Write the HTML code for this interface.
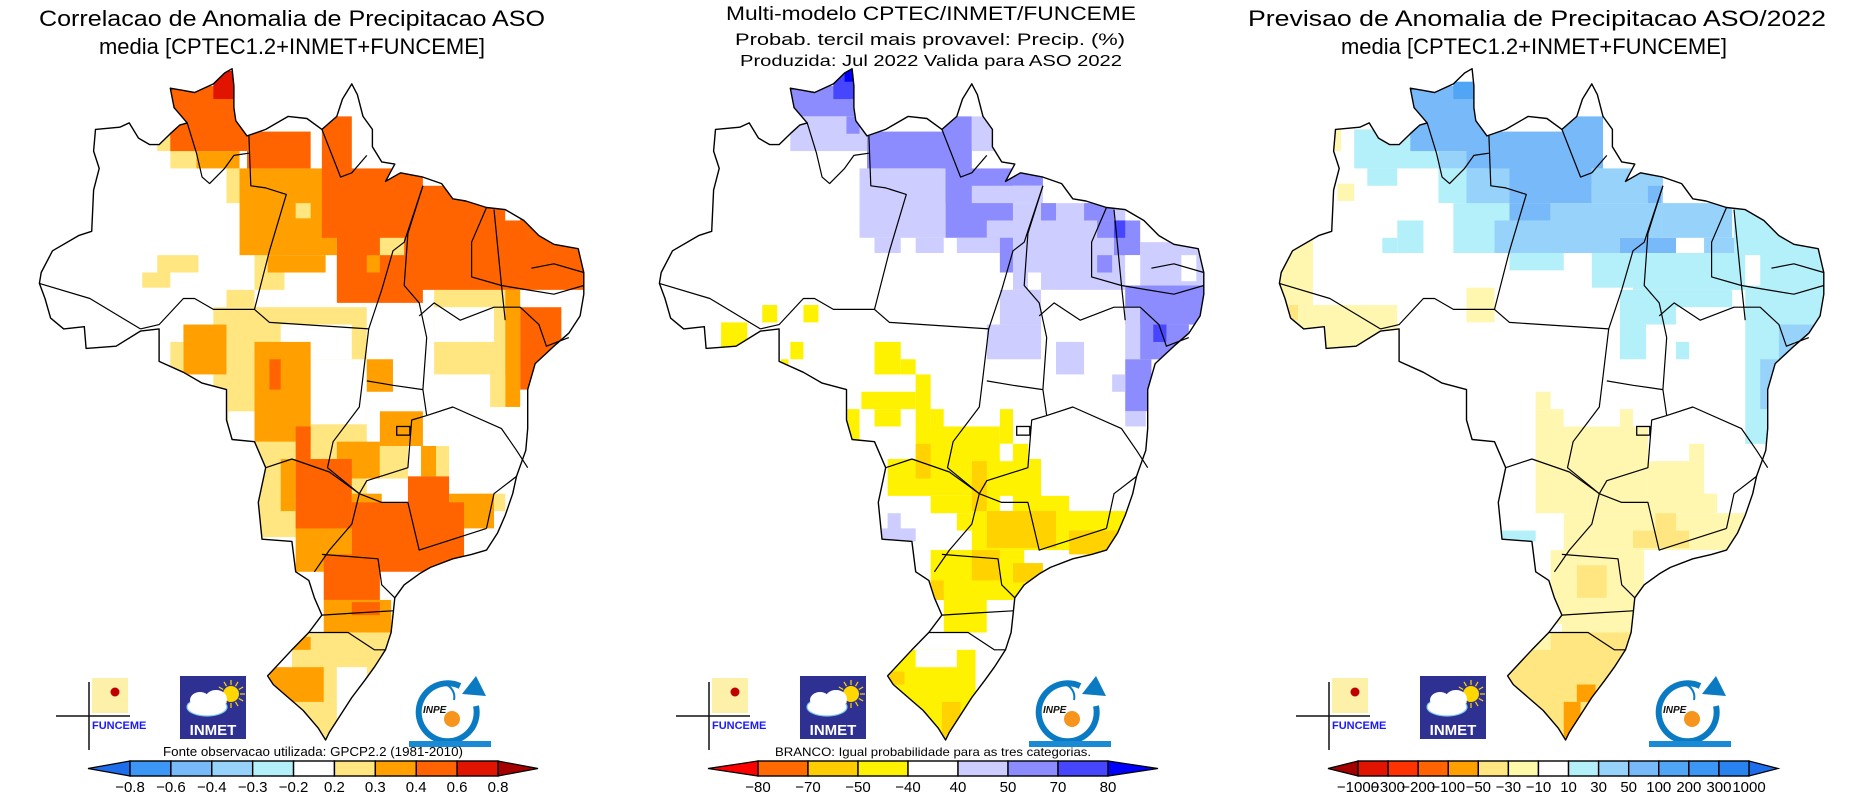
<!DOCTYPE html>
<html><head><meta charset="utf-8"><title>Precipitação ASO 2022</title>
<style>
html,body{margin:0;padding:0;background:#fff;}
#root{position:relative;width:1860px;height:802px;overflow:hidden;background:#fff;}
svg text{font-family:"Liberation Sans",sans-serif;}
</style></head>
<body>
<div id="root">
<svg id="fig" width="1860" height="802" viewBox="0 0 1860 802" xmlns="http://www.w3.org/2000/svg"></svg>
</div>
<script>
// ---- map data (cells in source-grid coordinates) ----
const outline = [[25,515],[30,490],[60,440],[130,405],[165,395],[170,300],[185,250],[170,210],[175,160],[240,155],[265,145],[290,180],[320,195],[345,195],[375,170],[400,150],[420,145],[385,110],[375,65],[410,70],[440,75],[490,55],[520,30],[540,20],[545,60],[545,110],[550,140],[580,175],[630,160],[690,130],[740,135],[780,160],[820,130],[835,90],[860,55],[875,80],[890,130],[915,160],[915,200],[940,235],[975,240],[950,280],[990,260],[1050,270],[1100,285],[1130,320],[1165,325],[1220,340],[1270,345],[1320,370],[1360,405],[1400,425],[1465,435],[1480,490],[1480,540],[1470,590],[1440,630],[1400,660],[1350,700],[1330,760],[1330,850],[1325,900],[1300,960],[1290,1000],[1270,1050],[1250,1090],[1220,1130],[1180,1140],[1130,1150],[1070,1170],[1040,1185],[1000,1210],[975,1240],[970,1280],[965,1320],[950,1360],[920,1400],[895,1430],[860,1470],[830,1510],[800,1550],[790,1568],[770,1540],[730,1500],[690,1470],[650,1440],[635,1420],[700,1360],[745,1320],[780,1280],[760,1240],[745,1200],[710,1180],[700,1110],[620,1105],[610,1020],[630,940],[600,880],[540,875],[525,830],[525,760],[460,745],[410,720],[345,695],[345,620],[295,625],[230,660],[150,665],[145,615],[90,620],[55,595],[40,550],[25,515]];
const borders = [
 [[25,515],[160,550],[295,620]],
 [[295,620],[345,610],[410,550],[440,550],[490,575],[600,575]],
 [[600,575],[640,440],[685,310],[630,295],[590,290],[585,175]],
 [[420,145],[445,215],[460,270],[480,285],[520,250],[545,220],[585,215]],
 [[600,575],[640,605],[905,620]],
 [[905,620],[940,530],[970,440],[1000,420],[1050,290]],
 [[780,160],[830,270],[860,260],[900,220]],
 [[1050,290],[1010,400],[1000,520],[1040,560],[1060,640]],
 [[1220,340],[1180,420],[1180,500],[1260,520],[1270,600]],
 [[1240,345],[1260,520]],
 [[1040,590],[1080,560],[1150,600],[1240,570],[1310,570],[1360,610],[1380,660],[1440,640]],
 [[1260,520],[1330,530],[1400,540],[1480,520]],
 [[1340,480],[1400,470],[1480,490]],
 [[1060,640],[1050,760],[1060,820]],
 [[1060,820],[1130,800],[1260,850],[1300,900],[1330,940]],
 [[1060,820],[1020,830],[1010,940],[900,970],[880,1000]],
 [[905,620],[890,730],[880,800],[810,880],[795,940],[880,1000]],
 [[900,740],[970,750],[1050,760]],
 [[630,940],[700,920],[800,950],[880,1000]],
 [[880,1000],[860,1070],[800,1130],[760,1180]],
 [[880,1000],[940,1020],[1010,1020],[1040,1130],[1220,1080]],
 [[1220,1080],[1240,1000],[1300,960]],
 [[780,1140],[930,1150],[940,1210],[975,1240]],
 [[780,1280],[870,1275],[970,1270]],
 [[745,1320],[850,1320],[920,1360],[950,1360]]
];
// panel 1 correlation cells: [x1,y1,x2,y2,colorKey]
const corrCells = [
 [490,570,900,1100,'y'],[340,170,375,210,'y'],[375,210,450,250,'y'],[525,250,600,330,'y'],[600,300,640,450,'y'],[600,450,680,530,'y'],[340,450,450,490,'y'],[300,490,375,525,'y'],[525,530,600,570,'y'],
 [1080,530,1270,800,'y'],[635,940,700,1080,'y'],[700,1320,970,1568,'y'],[785,1280,970,1330,'y'],[1160,1000,1270,1040,'y'],
 [670,610,860,690,'w'],[750,690,900,840,'w'],[530,810,640,880,'w'],[1080,570,1240,650,'w'],[1060,725,1230,800,'w'],[1080,800,1330,960,'w'],[820,1400,900,1520,'w'],
 [375,170,445,210,'o'],[445,210,560,250,'o'],[560,250,820,450,'o'],[635,450,790,490,'o'],[900,370,1010,490,'o'],[410,610,525,725,'o'],[600,650,750,880,'o'],[900,690,970,765,'o'],[820,880,935,965,'o'],[935,810,1050,890,'o'],[1045,890,1085,960,'o'],[860,1000,940,1140,'o'],[670,920,710,1040,'o'],[710,1040,860,1180,'o'],[785,1245,965,1320,'o'],[700,1330,750,1360,'o'],[640,1400,785,1480,'o'],[1120,1000,1240,1080,'o'],[1270,530,1310,800,'o'],[1230,725,1270,800,'y'],
 [710,330,750,365,'y'],[935,890,1010,965,'y'],[1085,890,1120,960,'y'],[375,650,410,725,'y'],
 [375,60,580,210,'d'],[580,165,750,250,'d'],[780,130,860,410,'d'],[820,250,1050,560,'d'],[1040,290,1480,530,'d'],[1310,570,1420,760,'d'],[640,690,670,760,'d'],[710,845,750,920,'d'],[710,920,860,1080,'d'],[860,1020,1160,1180,'d'],[1010,960,1120,1140,'d'],[785,1140,935,1245,'d'],[860,1250,935,1280,'d'],
 [1270,340,1310,370,'w'],[935,410,1000,450,'y'],[900,450,935,490,'o'],
 [490,25,545,90,'r']
];
// panel 2 tercile probability cells
const probCells = [
 [375,60,560,130,'l2'],[490,25,545,90,'l3'],[520,20,545,50,'b'],[375,130,580,210,'l1'],[525,130,560,170,'l2'],
 [580,165,790,250,'l2'],[780,130,860,330,'l2'],[860,130,920,210,'l1'],
 [560,250,790,410,'l1'],[600,410,670,445,'l1'],[710,410,785,445,'l1'],
 [790,250,970,410,'l2'],[860,290,970,330,'l1'],[900,370,970,410,'l1'],[820,410,935,445,'l1'],[935,410,970,490,'l2'],
 [970,250,1050,290,'l2'],[970,290,1050,330,'l1'],[970,330,1270,530,'l1'],[1045,330,1085,370,'l2'],[1160,330,1240,370,'l2'],[1195,370,1240,410,'l2'],[1240,370,1310,450,'l2'],[1240,370,1270,410,'l3'],[1195,450,1235,490,'l2'],[1270,450,1310,490,'w'],[1010,490,1045,530,'w'],
 [1310,420,1480,520,'l1'],[1420,450,1460,510,'w'],[1270,520,1480,610,'l2'],[1270,570,1310,610,'l1'],
 [1270,610,1420,690,'l1'],[1310,570,1360,690,'l2'],[1360,610,1440,690,'l2'],[1345,610,1380,650,'l3'],
 [1270,690,1340,810,'l2'],[1270,810,1325,845,'l1'],[1235,725,1270,765,'l1'],
 [935,530,1045,610,'l1'],[900,610,1045,690,'l1'],[1085,650,1160,725,'l1'],[635,1045,670,1110,'l1'],[620,1080,710,1110,'l1'],
 [300,565,340,605,'Y'],[190,605,260,665,'Y'],[410,565,450,605,'Y'],[375,650,410,690,'Y'],[350,690,370,710,'Y'],
 [600,650,670,725,'Y'],[670,690,710,725,'Y'],[710,725,750,850,'Y'],[565,765,710,805,'Y'],[600,805,670,845,'Y'],[525,805,560,875,'Y'],[750,805,785,845,'Y'],[710,845,935,920,'Y'],[935,805,970,885,'Y'],[970,885,1010,925,'Y'],
 [635,920,860,1005,'Y'],[750,1005,860,1045,'Y'],[820,1045,860,1085,'Y'],[860,920,1045,1040,'Y'],[1010,1005,1120,1045,'Y'],[860,1040,1270,1130,'Y'],
 [750,1130,1000,1245,'Y'],[785,1245,900,1320,'Y'],[640,1360,870,1568,'Y'],[710,1360,820,1400,'w'],
 [935,885,970,925,'w'],[935,1005,970,1040,'w'],
 [710,885,750,965,'g'],[860,925,900,1040,'g'],[900,1040,1085,1125,'g'],[1120,1085,1250,1140,'g'],[860,1130,935,1200,'g'],[970,1160,1050,1205,'g'],[750,1200,785,1245,'g'],[640,1410,680,1440,'g'],[780,1480,830,1568,'g']
];
// panel 3 anomaly forecast cells
const fcstCells = [
 [25,400,115,620,'p'],[25,565,340,670,'p'],[165,160,190,210,'p'],[180,285,225,325,'p'],[50,565,75,600,'q'],[525,525,600,605,'p'],
 [225,160,450,250,'c1'],[260,250,340,290,'c1'],[375,60,580,210,'c3'],[490,50,550,90,'c4'],[450,210,525,250,'c2'],[525,165,600,250,'c3'],
 [580,165,860,330,'c3'],[780,130,890,250,'c3'],[450,250,600,330,'c1'],[525,250,640,370,'c2'],[640,330,750,370,'c3'],
 [490,330,640,445,'c1'],[340,370,410,445,'c1'],[300,410,340,445,'c1'],[600,370,935,445,'c2'],[640,445,785,485,'c1'],[860,445,970,525,'c1'],
 [860,250,1050,330,'c2'],[1010,290,1045,330,'c3'],[750,330,1045,410,'c2'],[935,410,1085,445,'c3'],[1045,330,1235,410,'c2'],[1160,410,1240,445,'c2'],
 [970,445,1270,530,'c1'],[1240,340,1480,520,'c1'],[1270,450,1310,525,'w'],
 [935,530,1085,610,'c1'],[1085,530,1235,570,'c1'],[935,610,1005,690,'c1'],[1085,650,1120,690,'c1'],
 [1270,520,1480,610,'c1'],[1270,610,1370,885,'c1'],[1310,690,1370,805,'c2'],[1380,610,1460,650,'c2'],[1360,610,1400,690,'c2'],[620,1085,710,1110,'c1'],
 [710,765,750,805,'p'],[710,805,785,845,'p'],[935,805,970,845,'p'],[710,845,1010,1005,'p'],[710,925,860,1045,'p'],[785,1045,860,1130,'p'],
 [1010,925,1160,1005,'p'],[1120,885,1160,925,'p'],[860,1000,1195,1045,'p'],[860,1045,1270,1130,'p'],[750,1130,1000,1300,'p'],[780,1280,970,1330,'p'],
 [640,1320,970,1568,'q'],[700,1320,750,1360,'p'],[970,1085,1120,1125,'q'],[1030,1045,1085,1085,'q'],[820,1165,900,1240,'q'],
 [820,1440,870,1480,'o'],[785,1480,830,1568,'o'],[870,1460,900,1480,'o']
];
// colorbar data
const corrLabels = ['−0.8','−0.6','−0.4','−0.3','−0.2','0.2','0.3','0.4','0.6','0.8'];
const corrColors = ['#3c96f5','#78b9fa','#96d2fa','#b4f0fa','#ffffff','#ffe680','#ffa000','#ff6400','#e11400'];
const corrEnds = ['#1e6eeb','#a50000'];
const probLabels = ['−80','−70','−50','−40','40','50','70','80'];
const probColors = ['#ff6a00','#ffcc00','#fff200','#ffffff','#cdcdff','#8c8cff','#4646ff'];
const probEnds = ['#ff0000','#0000ff'];
const fcstLabels = ['−1000','−300','−200','−100','−50','−30','−10','10','30','50','100','200','300','1000'];
const fcstColors = ['#e11400','#ff3200','#ff6400','#ffa000','#ffe680','#fffaaa','#ffffff','#b4f0fa','#96d2fa','#78b9fa','#50a5f5','#3c96f5','#2882f0'];
const fcstEnds = ['#a50000','#1e6eeb'];

const PAL = {y:'#ffe680',o:'#ffa000',d:'#ff6400',r:'#e11400',w:'#ffffff',Y:'#fff200',
  l1:'#cdcdff',l2:'#8c8cff',l3:'#4646ff',b:'#0000ff',g:'#ffd200',
  p:'#fff7b0',q:'#ffe680',c1:'#b4f0fa',c2:'#96d2fa',c3:'#78b9fa',c4:'#50a5f5'};

const NS='http://www.w3.org/2000/svg';
const fig=document.getElementById('fig');
function mk(tag,attrs,parent){const e=document.createElementNS(NS,tag);for(const k in attrs)e.setAttribute(k,attrs[k]);(parent||fig).appendChild(e);return e;}
const sx = zx => 30 + zx*0.3742;
const sy = zy => 60 + zy*0.4337;
const pts = arr => arr.map(p=>sx(p[0]).toFixed(1)+','+sy(p[1]).toFixed(1)).join(' ');

function drawPanel(idx, off, cells, name){
  const g=mk('g',{transform:'translate('+off+',0)'});
  
  
  const cp=mk('clipPath',{id:'clip'+idx},g);
  mk('polygon',{points:pts(outline)},cp);
  const fills=mk('g',{'clip-path':'url(#clip'+idx+')'},g);
  
  
  for(const c of cells){
    const r=mk('rect',{x:sx(c[0]),y:sy(c[1]),width:sx(c[2])-sx(c[0]),height:sy(c[3])-sy(c[1]),fill:PAL[c[4]]},fills);
    
    
  }
  for(const b of borders){
    const l=mk('polyline',{points:pts(b),fill:'none',stroke:'#000','stroke-width':1.2,'stroke-linejoin':'round'},g);
    
    
  }
  const o=mk('polygon',{points:pts(outline),fill:'none',stroke:'#000','stroke-width':1.4,'stroke-linejoin':'round'},g);
  
  
  const df=mk('rect',{x:sx(980),y:sy(845),width:sx(1015)-sx(980),height:sy(865)-sy(845),fill:'none',stroke:'#000','stroke-width':1.3},g);
  
  
  return g;
}

function drawLogos(off){
  const g=mk('g',{transform:'translate('+off+',0)'});
  
  
  const f=mk('g',{},g);
  
  
  mk('rect',{x:92,y:678,width:36,height:35,fill:'#fdf0a8'},f);
  mk('line',{x1:56,y1:716,x2:130,y2:716,stroke:'#111','stroke-width':1.5},f);
  mk('line',{x1:89,y1:682,x2:89,y2:750,stroke:'#111','stroke-width':1.5},f);
  mk('circle',{cx:115,cy:692,r:4.5,fill:'#c00000'},f);
  const ft=mk('text',{x:92,y:729,'font-size':11,'font-weight':'bold',fill:'#1a1aff'},f);ft.textContent='FUNCEME';
  const m=mk('g',{},g);
  
  
  mk('rect',{x:180,y:676,width:66,height:63,fill:'#2e3192'},m);
  mk('circle',{cx:231,cy:694,r:8,fill:'#ffd700'},m);
  for(let a=0;a<12;a++){const t=a*Math.PI/6;mk('line',{x1:231+Math.cos(t)*9,y1:694+Math.sin(t)*9,x2:231+Math.cos(t)*14,y2:694+Math.sin(t)*14,stroke:'#ffd700','stroke-width':1.2},m);}
  mk('ellipse',{cx:207,cy:707,rx:20,ry:9,fill:'#fff',stroke:'#7cc8f0','stroke-width':1.2},m);
  mk('ellipse',{cx:200,cy:700,rx:10,ry:8,fill:'#fff'},m);
  mk('ellipse',{cx:216,cy:699,rx:11,ry:9,fill:'#fff'},m);
  const mt=mk('text',{x:213,y:735,'font-size':15,'font-weight':'bold',fill:'#fff','text-anchor':'middle'},m);mt.textContent='INMET';
  const p=mk('g',{},g);
  
  
  mk('path',{d:'M476,706 A29,29 0 1 1 460,686',fill:'none',stroke:'#0a7bc2','stroke-width':6},p);
  mk('path',{d:'M428,694 A13,13 0 1 1 454,700',fill:'none',stroke:'#0a7bc2','stroke-width':2},p);
  mk('polygon',{points:'462,694 476,676 486,696',fill:'#0a7bc2'},p);
  mk('circle',{cx:452,cy:719,r:8,fill:'#f7941d'},p);
  const pt=mk('text',{x:423,y:713,'font-size':10,'font-weight':'bold','font-style':'italic',fill:'#111'},p);pt.textContent='INPE';
  mk('rect',{x:409,y:741,width:82,height:6,fill:'#1a8ad4'},p);
}

function drawColorbar(off, labels, colors, ends, x0, x1, name){
  const g=mk('g',{transform:'translate('+off+',0)'});
  
  
  const y0=761, h=15, n=colors.length, w=(x1-x0)/n;
  const lt=mk('polygon',{points:'88,'+(y0+h/2)+' '+x0+','+y0+' '+x0+','+(y0+h),fill:ends[0],stroke:'#000','stroke-width':1.2},g);
  
  
  const rt=mk('polygon',{points:'538,'+(y0+h/2)+' '+x1+','+y0+' '+x1+','+(y0+h),fill:ends[1],stroke:'#000','stroke-width':1.2},g);
  
  
  colors.forEach((c,i)=>{
    const r=mk('rect',{x:x0+i*w,y:y0,width:w,height:h,fill:c,stroke:'#000','stroke-width':1.4},g);
    
    
  });
  labels.forEach((t,i)=>{
    const tx=mk('text',{x:x0+i*w,y:792,'font-size':15,'text-anchor':'middle',fill:'#000'},g);
    
    
    tx.textContent=t;
  });
}

function title(x,y,txt,len,size,name){
  const t=mk('text',{x:x,y:y,'font-size':size,'text-anchor':'middle',textLength:len,lengthAdjust:'spacingAndGlyphs',fill:'#000'});
  
  
  t.textContent=txt;
}

drawPanel(1,0,corrCells,'correlation-map');
drawPanel(2,620,probCells,'tercile-probability-map');
drawPanel(3,1240,fcstCells,'anomaly-forecast-map');
drawLogos(0);drawLogos(620);drawLogos(1240);
drawColorbar(0,corrLabels,corrColors,corrEnds,130,498,'correlation-colorbar');
drawColorbar(620,probLabels,probColors,probEnds,138,488,'probability-colorbar');
drawColorbar(1240,fcstLabels,fcstColors,fcstEnds,118,509,'anomaly-colorbar');

title(292,26,'Correlacao de Anomalia de Precipitacao ASO',506,22,'panel1-title-line1');
title(292,54,'media [CPTEC1.2+INMET+FUNCEME]',386,22,'panel1-title-line2');
title(931,20,'Multi-modelo CPTEC/INMET/FUNCEME',410,19,'panel2-title-line1');
title(930,45,'Probab. tercil mais provavel: Precip. (%)',390,17,'panel2-title-line2');
title(931,66,'Produzida: Jul 2022  Valida para ASO 2022',382,16,'panel2-title-line3');
title(1537,26,'Previsao de Anomalia de Precipitacao ASO/2022',578,22,'panel3-title-line1');
title(1534,54,'media [CPTEC1.2+INMET+FUNCEME]',386,22,'panel3-title-line2');
title(313,756,'Fonte observacao utilizada: GPCP2.2 (1981-2010)',300,12.5,'data-source-note');
title(933,756,'BRANCO: Igual probabilidade para as tres categorias.',316,12,'white-category-note');
</script>
</body></html>
